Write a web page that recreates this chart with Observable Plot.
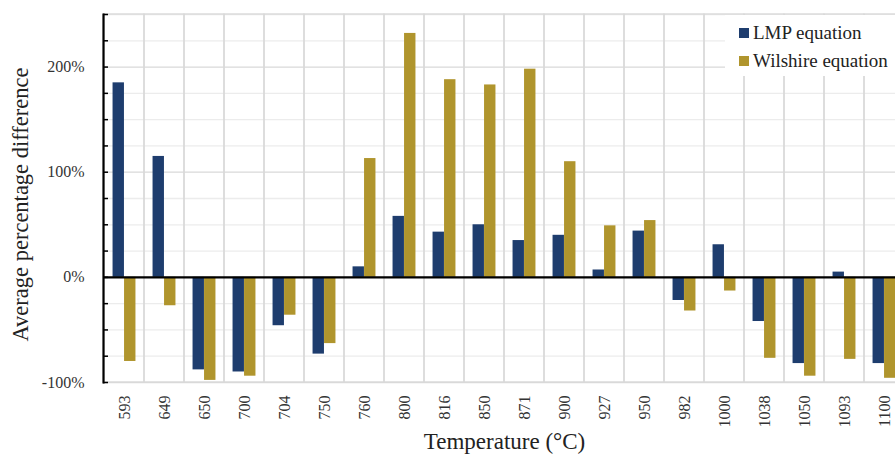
<!DOCTYPE html>
<html>
<head>
<meta charset="utf-8">
<script src="https://cdn.jsdelivr.net/npm/d3@7"></script>
<script src="https://cdn.jsdelivr.net/npm/@observablehq/plot@0.6"></script>
<style>
  html, body { margin: 0; padding: 0; overflow: hidden; background: #fff; }
  #chart { position: relative; width: 895px; height: 454px; overflow: hidden; }
  #chart svg { font-family: "Liberation Serif", "DejaVu Serif", serif; max-width: none !important; }
  g[aria-label="y-axis tick label"] text, g[aria-label="x-axis tick label"] text { font-size: 16px; fill: #333; }
  g[aria-label="x-axis label"] text { font-size: 23px; fill: #222; }
  .legend {
    position: absolute; left: 725px; top: 15px; width: 170px; height: 61px;
    background: #fff; font-family: "Liberation Serif", serif; font-size: 19px; color: #222;
  }
  .legend .item { position: absolute; left: 14px; display: flex; align-items: center; height: 20px; }
  .legend .sw { width: 10px; height: 10px; margin-right: 4px; }
</style>
</head>
<body>
<div id="chart"></div>
<script>
// Creep temperatures (°C) and the average percentage difference of each equation
const temperatures = ["593", "649", "650", "700", "704", "750", "760", "800", "816", "850",
                      "871", "900", "927", "950", "982", "1000", "1038", "1050", "1093", "1100"];
const lmpDiff      = [185, 115, -88, -90, -46, -73, 10, 58, 43, 50,
                      35, 40, 7, 44, -22, 31, -42, -82, 5, -82];
const wilshireDiff = [-80, -27, -98, -94, -36, -63, 113, 232, 188, 183,
                      198, 110, 49, 54, -32, -13, -77, -94, -78, -96];
const seriesNames  = ["LMP equation", "Wilshire equation"];
const seriesColors = ["#1e3d6e", "#b0952d"];
const yTicks       = d3.range(-100, 251, 25);
const xTitle       = "Temperature (°C)";
const yTitle       = "Average percentage difference";

const rows = temperatures.map((t, i) => ({temp: t, lmp: lmpDiff[i], wilshire: wilshireDiff[i]}));

const width = 905, marginLeft = 103, marginRight = 0;
const step = (width - marginLeft - marginRight) / temperatures.length;
const barWidth = 11.5;

const plot = Plot.plot({
  width,
  height: 454,
  marginLeft,
  marginRight,
  marginTop: 14,
  marginBottom: 72,
  x: {domain: temperatures, padding: 0},
  y: {domain: [-100, 250]},
  color: {domain: seriesNames, range: seriesColors},
  marks: [
    // minor and major horizontal grid
    Plot.ruleY(yTicks.filter(d => d % 100 !== 0), {stroke: "#ececec", strokeWidth: 1.3}),
    Plot.ruleY(yTicks.filter(d => d % 100 === 0), {stroke: "#d9d9d9", strokeWidth: 1.3}),
    // vertical grid at category boundaries
    Plot.cell(temperatures, {x: d => d, fill: "none", stroke: "#d9d9d9", strokeWidth: 1.3}),
    Plot.barY(rows, {
      x: "temp", y: "lmp", fill: () => seriesNames[0],
      insetLeft: step / 2 - barWidth, insetRight: step / 2
    }),
    Plot.barY(rows, {
      x: "temp", y: "wilshire", fill: () => seriesNames[1],
      insetLeft: step / 2, insetRight: step / 2 - barWidth
    }),
    Plot.ruleY([0], {stroke: "black", strokeWidth: 2.2}),
    Plot.frame({anchor: "left", stroke: "black", strokeWidth: 2.2}),
    Plot.axisY({
      ticks: yTicks,
      tickFormat: d => d % 100 === 0 ? `${d}%` : "",
      tickSize: -5,
      tickPadding: 24,
      stroke: "black",
      strokeWidth: 1.5,
      label: null
    }),
    // rotated y-axis title
    Plot.text([yTitle], {
      text: d => d, frameAnchor: "left", textAnchor: "middle", lineAnchor: "middle",
      rotate: -90, dx: -83, dy: 6, fontSize: 22.5, fill: "#222"
    }),
    Plot.axisX({
      tickRotate: -90,
      tickSize: 0,
      tickPadding: 13,
      label: xTitle,
      labelArrow: "none",
      labelAnchor: "center",
      labelOffset: 66
    })
  ]
});

const chart = document.getElementById("chart");
chart.appendChild(plot);

// legend box in the upper right of the plot area
const legend = d3.select(chart).append("div").attr("class", "legend");
seriesNames.forEach((name, i) => {
  const item = legend.append("div").attr("class", "item").style("top", `${8 + i * 28}px`);
  item.append("div").attr("class", "sw").style("background", seriesColors[i]);
  item.append("span").text(name);
});
</script>
</body>
</html>
